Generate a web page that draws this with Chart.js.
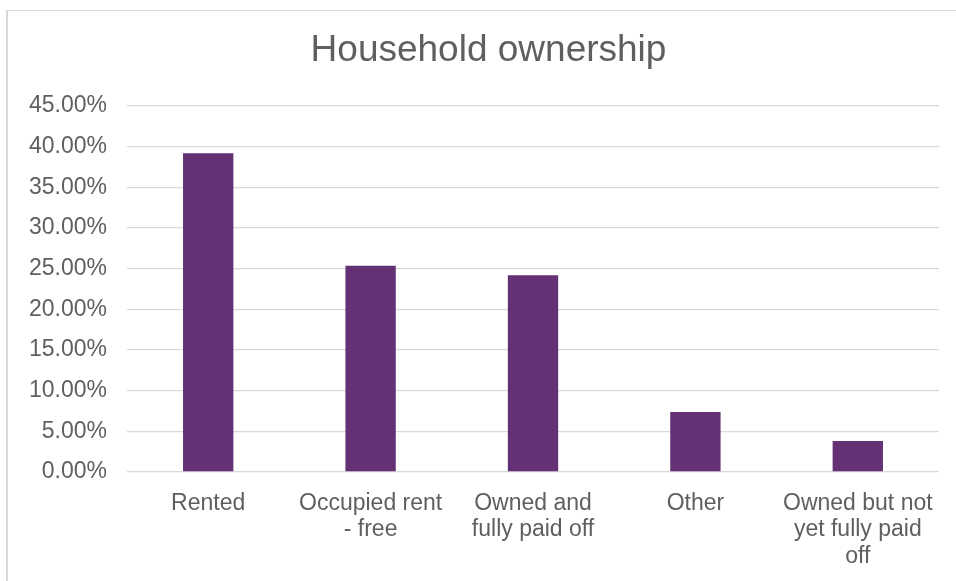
<!DOCTYPE html>
<html>
<head>
<meta charset="utf-8">
<script src="https://cdn.jsdelivr.net/npm/chart.js@4"></script>
<style>
  html, body { margin: 0; padding: 0; background: #fff; }
  canvas { display: block; }
</style>
</head>
<body>
<canvas id="chartArea" width="956" height="581"></canvas>
<script>
// ----------------------------
// chart data
// ----------------------------
const categories = [
  'Rented',
  ['Occupied rent', '- free'],
  ['Owned and', 'fully paid off'],
  'Other',
  ['Owned but not', 'yet fully paid', 'off']
];
const shares = [39.19, 25.36, 24.18, 7.38, 3.81];
const yTicks = [0, 5, 10, 15, 20, 25, 30, 35, 40, 45];
const chartTitle = 'Household ownership';

const textGrey = '#5f5f5f';
const gridGrey = '#d9d9d9';
const fontFamily = '"Liberation Sans", Arial, sans-serif';

// frame (left + top edges visible) and the centred title
const framePlugin = {
  id: 'frame',
  beforeDraw(chart) {
    const c = chart.ctx;
    c.save();
    c.fillStyle = '#fff';
    c.fillRect(0, 0, chart.width, chart.height);
    c.fillStyle = gridGrey;
    c.fillRect(7, 10, chart.width - 7, 1);
    c.fillRect(6, 10, 2, chart.height - 10);
    c.fillStyle = textGrey;
    c.font = '37px ' + fontFamily;
    c.textAlign = 'center';
    c.textBaseline = 'alphabetic';
    c.fillText(chartTitle, 488.5, 61);
    c.restore();
  }
};

new Chart(document.getElementById('chartArea'), {
  type: 'bar',
  data: {
    labels: categories,
    datasets: [{
      label: chartTitle,
      data: shares,
      backgroundColor: '#633174',
      borderWidth: 0,
      categoryPercentage: 1,
      barPercentage: 0.31
    }]
  },
  options: {
    responsive: false,
    animation: false,
    layout: { padding: { left: 0, right: 17, top: 106, bottom: 0 } },
    plugins: {
      legend: { display: false },
      tooltip: { enabled: false },
      title: { display: false }
    },
    scales: {
      x: {
        afterFit(scale) { scale.height = 109; },
        grid: { display: false, drawTicks: false },
        border: { display: false },
        ticks: {
          color: textGrey,
          autoSkip: false,
          maxRotation: 0,
          padding: 18,
          font: { family: fontFamily, size: 23, lineHeight: 1.16 }
        }
      },
      y: {
        min: 0,
        max: 45,
        afterBuildTicks(scale) {
          scale.ticks = yTicks.map(v => ({ value: v }));
        },
        afterFit(scale) { scale.width = 127; },
        grid: { color: gridGrey, lineWidth: 1.3, drawTicks: false },
        border: { display: false },
        ticks: {
          color: textGrey,
          padding: 20,
          font: { family: fontFamily, size: 23 },
          callback: v => v.toFixed(2) + '%'
        }
      }
    }
  },
  plugins: [framePlugin]
});
</script>
</body>
</html>
